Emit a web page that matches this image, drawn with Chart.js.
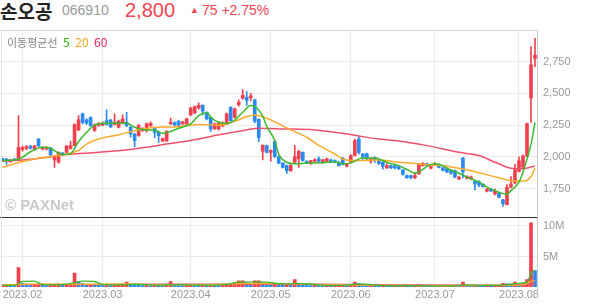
<!DOCTYPE html>
<html>
<head>
<meta charset="utf-8">
<script src="https://cdn.jsdelivr.net/npm/chart.js@4.4.0/dist/chart.umd.min.js"></script>
<style>
body { margin: 0; width: 594px; height: 304px; background: #fff; overflow: hidden; position: relative; font-family: "Liberation Sans", Arial, sans-serif; }
.abs { position: absolute; white-space: nowrap; }
#name { left: 0; top: -3px; font: bold 19px "Noto Sans CJK KR", sans-serif; color: #222; }
#code { left: 62px; top: 2px; font-size: 14px; color: #999; }
#price { left: 125px; top: -1px; font-size: 20px; color: #f04452; }
#chg { left: 190px; top: 2px; font-size: 14px; color: #f04452; }
#chg .tri { font-size: 9px; position: relative; top: -2px; margin-right: 3px; }
#legend { left: 7px; top: 33px; font: 11px "Noto Sans CJK KR", sans-serif; color: #888; }
#legend b { font-weight: normal; margin-left: 3px; font-size: 12px; }
#mark { left: 5px; top: 196px; font: bold 15px "Liberation Sans", Arial, sans-serif; color: #cacaca; }
#topLine { left: 0; top: 30px; width: 537px; height: 1px; background: #d6d6d6; }
#leftLine { left: 1px; top: 30px; width: 1px; height: 258px; background: #e2e2e2; }
#rightLine { left: 537px; top: 30px; width: 1px; height: 267px; background: #c8c8c8; }
canvas { position: absolute; left: 0; }
#priceCanvas { top: 30px; }
#volCanvas { top: 217px; }
</style>
</head>
<body>
<div class="abs" id="name">손오공</div>
<div class="abs" id="code">066910</div>
<div class="abs" id="price">2,800</div>
<div class="abs" id="chg"><span class="tri">▲</span>75 +2.75%</div>

<canvas id="priceCanvas" width="594" height="188"></canvas>
<canvas id="volCanvas" width="594" height="87"></canvas>
<div class="abs" id="topLine"></div>
<div class="abs" id="leftLine"></div>
<div class="abs" id="rightLine"></div>
<div class="abs" id="legend">이동평균선 <b style="color:#2db400">5</b> <b style="color:#f5a623">20</b> <b style="color:#e8235a">60</b></div>
<div class="abs" id="mark">© PAXNet</div>

<script>
// --- Trading days ---
const janDays = [25, 26, 27, 30, 31];
const febDays = [1, 2, 3, 6, 7, 8, 9, 10, 13, 14, 15, 16, 17, 20, 21, 22, 23, 24, 27, 28];
const marDays = [2, 3, 6, 7, 8, 9, 10, 13, 14, 15, 16, 17, 20, 21, 22, 23, 24, 27, 28, 29, 30, 31];
const aprDays = [3, 4, 5, 6, 7, 10, 11, 12, 13, 14, 17, 18, 19, 20, 21, 24, 25, 26, 27, 28];
const mayDays = [2, 3, 4, 8, 9, 10, 11, 12, 15, 16, 17, 18, 19, 22, 23, 24, 25, 26, 30, 31];
const junDays = [1, 2, 5, 7, 8, 9, 12, 13, 14, 15, 16, 19, 20, 21, 22, 23, 26, 27, 28, 29, 30];
const julDays = [3, 4, 5, 6, 7, 10, 11, 12, 13, 14, 17, 18, 19, 20, 21, 24, 25, 26, 27, 28, 31];
const augDays = [1, 2, 3, 4, 7];

// --- Prices (KRW) ---
const opens = [1985,1982,1962,1980,1985,2058,2065,2085,2060,2140,2062,2060,2070,1975,1957,2030,2035,2065,2088,2212,
  2338,2291,2311,2207,2250,2250,2285,2290,2255,2233,2264,2272,2233,2180,2167,2208,2207,2246,2228,2193,
  2124,2127,2260,2270,2280,2260,2260,2330,2345,2385,2405,2351,2311,2220,2220,2245,2260,2390,2312,2412,
  2460,2470,2465,2450,2295,2045,2088,2035,2120,2001,1950,1930,1890,1957,1983,2035,1965,1950,1965,1983,
  1960,1965,1976,1970,1957,1990,1925,1957,2010,2140,2023,2023,1965,1996,1970,1957,1912,1930,1928,1922,
  1897,1852,1852,1835,1865,1930,1945,1910,1932,1938,1912,1905,1892,1892,1825,1990,1830,1825,1807,1805,
  1782,1728,1746,1708,1712,1660,1623,1760,1793,1885,1918,2005,2465,2775];
const highs = [1990,1988,1980,1985,2325,2085,2090,2090,2090,2145,2080,2080,2075,2010,2040,2035,2090,2122,2260,2325,
  2345,2300,2315,2260,2270,2275,2370,2295,2338,2290,2330,2350,2240,2185,2255,2230,2268,2275,2235,2195,
  2148,2205,2306,2275,2290,2280,2305,2390,2400,2425,2410,2355,2315,2265,2280,2275,2345,2395,2385,2450,
  2530,2515,2500,2455,2300,2095,2092,2055,2125,2005,1955,1935,1940,2090,2050,2040,1970,1972,1985,2000,
  1980,1990,1982,1975,1962,1995,1948,2015,2140,2155,2025,2030,1990,2000,1975,1960,1945,1935,1932,1928,
  1900,1858,1855,1875,1945,1955,1950,1928,1955,1945,1918,1910,1895,1895,1845,1995,1850,1848,1812,1810,
  1788,1750,1752,1745,1718,1665,1780,1843,1940,2000,2015,2265,2870,2935];
const lows = [1962,1940,1958,1970,1980,2045,2055,2060,2050,2080,2055,2055,1996,1917,1950,2010,2030,2060,2085,2205,
  2260,2255,2240,2200,2240,2245,2250,2230,2250,2228,2260,2235,2154,2080,2160,2200,2195,2240,2150,2114,
  2120,2120,2255,2245,2245,2255,2255,2325,2340,2375,2330,2290,2200,2215,2210,2235,2255,2280,2305,2400,
  2455,2405,2440,2270,2120,1975,2030,1965,1995,1945,1912,1868,1885,1950,1917,1965,1945,1940,1960,1960,
  1950,1955,1955,1952,1925,1935,1920,1950,2005,2020,1980,1975,1950,1955,1940,1905,1908,1908,1905,1900,
  1855,1830,1825,1825,1860,1925,1925,1905,1928,1912,1888,1875,1860,1835,1820,1834,1825,1820,1738,1765,
  1760,1722,1725,1700,1675,1609,1620,1755,1785,1880,1910,2000,2272,2710];
const closes = [1970,1972,1975,1975,2075,2072,2080,2068,2085,2085,2075,2072,2017,2005,2035,2015,2085,2088,2254,2291,
  2272,2265,2246,2252,2262,2262,2255,2238,2272,2280,2299,2246,2180,2127,2246,2222,2259,2264,2193,2167,
  2143,2201,2272,2252,2250,2275,2300,2385,2395,2405,2360,2299,2220,2259,2264,2265,2338,2285,2378,2430,
  2485,2445,2480,2280,2150,2090,2035,2050,2001,1950,1917,1890,1930,2001,2043,1970,1950,1970,1976,1965,
  1975,1983,1960,1957,1930,1940,1943,2010,2128,2035,1996,1983,1983,1975,1945,1923,1930,1912,1912,1905,
  1860,1835,1835,1852,1938,1948,1932,1922,1945,1917,1892,1880,1870,1840,1840,1880,1845,1840,1786,1778,
  1765,1746,1730,1728,1681,1630,1760,1786,1898,1968,2005,2262,2725,2800];

// --- Volume (millions of shares) ---
const volumes = [0.3,0.35,0.25,0.2,3.2,0.6,0.5,0.3,0.35,0.45,0.3,0.25,0.3,0.4,0.45,0.3,0.35,0.4,2.3,0.9,
  0.6,0.4,0.45,0.35,0.3,0.25,0.3,0.25,0.3,0.3,0.35,0.8,0.4,0.35,0.3,0.25,0.3,0.25,0.3,0.25,
  0.2,0.3,0.9,0.35,0.3,0.25,0.3,0.35,0.3,0.25,0.3,0.25,0.35,0.3,0.25,0.3,0.45,0.6,0.75,1.0,
  1.0,0.7,0.5,1.0,1.0,0.7,0.5,0.4,0.6,0.45,0.35,0.4,0.35,1.2,0.5,0.4,0.3,0.25,0.3,0.25,
  0.2,0.25,0.2,0.2,0.25,0.3,0.2,0.35,0.8,0.6,0.3,0.25,0.3,0.25,0.2,0.25,0.2,0.15,0.2,0.15,
  0.25,0.2,0.15,0.2,0.35,0.25,0.2,0.15,0.2,0.15,0.2,0.2,0.15,0.2,0.15,0.8,0.3,0.2,0.25,0.2,
  0.15,0.2,0.15,0.2,0.25,0.6,0.5,0.4,0.8,0.6,0.65,1.2,10.5,2.7];

// --- Moving averages (day index -> value) ---
const ma5Idx = [0,4,7,10,12,15,17,19,21,23,25,28,31,33,36,38,40,42,44,47,49,51,52,54,56,58,60,62,63,65,66,68,69,71,73,76,79,83,85,87,90,93,94,96,99,101,103,105,106,108,110,111,114,116,119,121,124,126,127,129,130,132,133];
const ma5Val = [1970,1980,2040,2075,2065,2017,2025,2120,2193,2250,2264,2264,2264,2233,2212,2212,2185,2200,2225,2259,2325,2350,2312,2272,2262,2290,2351,2404,2398,2320,2240,2128,2020,1957,1945,1950,1952,1960,1945,1952,1990,1990,1983,1955,1930,1900,1872,1900,1925,1945,1930,1910,1870,1840,1800,1760,1720,1705,1733,1800,1880,2100,2270];
const ma20Idx = [0,4,8,12,16,19,21,24,29,33,35,39,43,46,49,54,58,61,63,66,69,72,76,79,83,85,88,94,99,102,106,110,112,116,120,124,128,130,132,133];
const ma20Val = [1915,1955,1983,2001,2022,2050,2100,2140,2174,2206,2220,2233,2235,2246,2255,2250,2280,2317,2330,2304,2259,2212,2154,2090,2022,1983,1970,1975,1957,1950,1938,1930,1920,1898,1867,1834,1808,1808,1843,1910];
const ma60Idx = [0,8,16,24,33,41,49,53,61,64,70,78,86,90,94,98,106,114,119,123,127,130,133];
const ma60Val = [1965,1983,2017,2035,2062,2100,2140,2167,2212,2225,2220,2212,2180,2159,2140,2128,2088,2035,2010,1957,1910,1906,1928];

const vma5Idx = [0,3,5,8,10,14,18,20,23,25,30,33,38,44,50,56,59,63,66,70,74,78,85,89,92,96,104,112,116,121,126,129,131,132,133];
const vma5Val = [0.25,0.25,0.9,0.95,0.4,0.35,0.7,0.95,0.9,0.4,0.35,0.45,0.3,0.4,0.3,0.4,0.8,0.85,0.8,0.5,0.6,0.4,0.25,0.5,0.4,0.2,0.22,0.18,0.35,0.25,0.4,0.6,0.75,2.3,2.7];
const vma20Idx = [0,10,20,30,40,50,60,70,80,90,100,110,120,126,130,132,133];
const vma20Val = [0.35,0.5,0.45,0.5,0.35,0.35,0.55,0.55,0.4,0.3,0.25,0.2,0.25,0.3,0.4,0.9,1.05];
const vma60Idx = [0,20,40,60,80,100,120,130,132,133];
const vma60Val = [0.4,0.4,0.45,0.45,0.45,0.35,0.3,0.3,0.45,0.5];

const priceTicks = [1750, 2000, 2250, 2500, 2750];
const volTicks = [5, 10];

// --- Colors ---
const UP = '#f2414e';
const DOWN = '#2b8af0';
const GREEN = '#3cba2e';
const ORANGE = '#fdaa2c';
const PINK = '#f0506e';
const GRID = '#ececec';

// --- Build labels ---
const months = [['01', janDays], ['02', febDays], ['03', marDays], ['04', aprDays], ['05', mayDays], ['06', junDays], ['07', julDays], ['08', augDays]];
const dates = [];
const monthStarts = [];
months.forEach(([m, days], k) => {
    if (k > 0) monthStarts.push(dates.length);
    days.forEach(d => dates.push('2023.' + m + '.' + String(d).padStart(2, '0')));
});

function sparse(idx, val) {
    const arr = dates.map(() => null);
    idx.forEach((d, k) => { arr[d] = val[k]; });
    return arr;
}

const candleColors = opens.map((o, i) => closes[i] >= o ? UP : DOWN);
const volColors = volumes.map((v, i) => (i === 0 || v >= volumes[i - 1]) ? UP : DOWN);

function maLine(label, data, color, width) {
    return {
        type: 'line', label, data, borderColor: color, borderWidth: width || 1.5,
        pointRadius: 0, spanGaps: true, cubicInterpolationMode: 'monotone', order: 0
    };
}

const monthGrid = s => { s.ticks = monthStarts.map(v => ({ value: v })); };
// no extra room around the axes for half-labels
const noPad = s => { s.paddingTop = 0; s.paddingBottom = 0; s.paddingLeft = 0; s.paddingRight = 0; };

// --- Price panel ---
new Chart(document.getElementById('priceCanvas'), {
    data: {
        labels: dates,
        datasets: [
            maLine('MA5', sparse(ma5Idx, ma5Val), GREEN),
            maLine('MA20', sparse(ma20Idx, ma20Val), ORANGE),
            maLine('MA60', sparse(ma60Idx, ma60Val), PINK),
            {
                type: 'bar', label: 'body', data: opens.map((o, i) => [o, closes[i]]),
                backgroundColor: candleColors, barThickness: 3, minBarLength: 1, grouped: false, order: 1
            },
            {
                type: 'bar', label: 'wick', data: lows.map((l, i) => [l, highs[i]]),
                backgroundColor: candleColors, barThickness: 1, grouped: false, order: 2
            }
        ]
    },
    options: {
        responsive: false, animation: false, devicePixelRatio: 1,
        layout: { padding: { left: 0.5, top: 0, right: 0, bottom: 1 } },
        plugins: { legend: { display: false }, tooltip: { enabled: false } },
        scales: {
            x: {
                offset: true,
                grid: { color: GRID, offset: false, drawTicks: false },
                border: { display: true, color: '#333' },
                ticks: { display: false },
                afterBuildTicks: monthGrid,
                afterFit: noPad
            },
            y: {
                position: 'right', min: 1525, max: 3000,
                grid: { color: GRID, drawTicks: false },
                border: { display: false },
                ticks: {
                    padding: 6, color: '#999', font: { size: 11, family: 'Liberation Sans' },
                    callback: v => v.toLocaleString('en-US')
                },
                afterBuildTicks: s => { s.ticks = priceTicks.map(v => ({ value: v })); },
                afterFit: s => { noPad(s); s.width = 57; }
            }
        }
    }
});

// --- Volume panel ---
new Chart(document.getElementById('volCanvas'), {
    data: {
        labels: dates,
        datasets: [
            maLine('VMA5', sparse(vma5Idx, vma5Val), GREEN, 1.3),
            maLine('VMA20', sparse(vma20Idx, vma20Val), ORANGE, 1.3),
            maLine('VMA60', sparse(vma60Idx, vma60Val), PINK, 1.3),
            {
                type: 'bar', label: 'volume', data: volumes,
                backgroundColor: volColors, barThickness: 3, minBarLength: 1, order: 1
            }
        ]
    },
    options: {
        responsive: false, animation: false, devicePixelRatio: 1,
        layout: { padding: { left: 0.5, top: 1, right: 0, bottom: 0 } },
        plugins: { legend: { display: false }, tooltip: { enabled: false } },
        scales: {
            x: {
                offset: true,
                grid: { color: GRID, offset: false, drawTicks: false },
                border: { display: false },
                ticks: {
                    padding: 1, color: '#999', maxRotation: 0, autoSkip: false,
                    font: { size: 11, family: 'Liberation Sans' },
                    callback: v => dates[v].slice(0, 7)
                },
                afterBuildTicks: monthGrid,
                afterFit: s => { noPad(s); s.height = 17; }
            },
            y: {
                position: 'right', min: 0, max: 11.3,
                grid: { color: GRID, drawTicks: false },
                border: { display: false },
                ticks: { padding: 6, color: '#999', font: { size: 11, family: 'Liberation Sans' }, callback: v => v + 'M' },
                afterBuildTicks: s => { s.ticks = volTicks.map(v => ({ value: v })); },
                afterFit: s => { noPad(s); s.width = 57; }
            }
        }
    }
});
</script>
</body>
</html>
